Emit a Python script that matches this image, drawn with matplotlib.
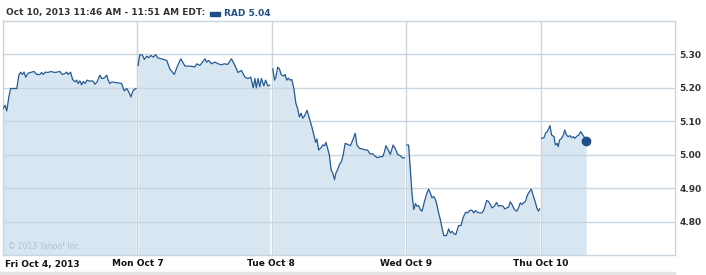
import matplotlib
matplotlib.use("Agg")
import matplotlib.pyplot as plt
import matplotlib.transforms as mtransforms

# minutes after 9:30 open, and price, one pair of lists per trading day
fri_min = [0, 6, 11, 17, 22, 40, 46, 51, 56, 61, 66, 73, 83, 90, 98, 107, 112, 117, 123, 131,
           138, 151, 165, 172, 180, 185, 189, 196, 202, 209, 214, 218, 223, 228, 233, 238, 244,
           252, 260, 267, 273, 281, 286, 293, 301, 305, 310, 317, 325, 334, 344, 352, 359, 365,
           371, 378, 386]
fri_val = [5.138, 5.148, 5.131, 5.173, 5.198, 5.198, 5.238, 5.247, 5.240, 5.247, 5.232, 5.244,
           5.247, 5.249, 5.240, 5.240, 5.246, 5.240, 5.247, 5.246, 5.249, 5.246, 5.249, 5.240,
           5.243, 5.247, 5.240, 5.247, 5.225, 5.218, 5.223, 5.213, 5.221, 5.209, 5.219, 5.213,
           5.223, 5.220, 5.221, 5.211, 5.218, 5.238, 5.228, 5.229, 5.238, 5.223, 5.213, 5.218,
           5.216, 5.215, 5.213, 5.191, 5.198, 5.188, 5.173, 5.193, 5.198]

mon_min = [2, 7, 14, 20, 27, 33, 39, 46, 53, 60, 70, 85, 94, 107, 117, 126, 138, 152, 167, 172,
           181, 186, 196, 201, 207, 215, 225, 234, 244, 252, 262, 273, 283, 292, 302, 312, 321,
           329, 336, 341, 345, 350, 355, 360, 367, 372, 379, 384]
mon_val = [5.267, 5.299, 5.299, 5.285, 5.295, 5.290, 5.297, 5.292, 5.299, 5.289, 5.287, 5.282,
           5.257, 5.240, 5.267, 5.287, 5.265, 5.265, 5.263, 5.272, 5.267, 5.273, 5.287, 5.277,
           5.282, 5.272, 5.277, 5.272, 5.269, 5.272, 5.270, 5.287, 5.267, 5.246, 5.252, 5.232,
           5.228, 5.232, 5.200, 5.228, 5.200, 5.228, 5.203, 5.228, 5.206, 5.223, 5.206, 5.208]

tue_min = [3, 8, 12, 17, 22, 27, 34, 39, 43, 48, 53, 58, 64, 70, 75, 80, 85, 90, 95, 102, 109,
           116, 122, 127, 131, 136, 143, 148, 153, 157, 162, 167, 172, 177, 182, 186, 191, 196,
           203, 207, 213, 220, 228, 235, 242, 247, 254, 264, 271, 278, 285, 293, 298, 302, 307,
           315, 322, 327, 331, 338, 344, 352, 359, 365, 373, 380, 385]
tue_val = [5.257, 5.223, 5.232, 5.262, 5.257, 5.240, 5.235, 5.240, 5.223, 5.229, 5.223, 5.225,
           5.198, 5.153, 5.138, 5.113, 5.124, 5.109, 5.116, 5.133, 5.109, 5.084, 5.059, 5.037,
           5.047, 5.014, 5.021, 5.029, 5.027, 5.037, 5.019, 4.999, 4.955, 4.945, 4.925, 4.945,
           4.955, 4.970, 4.982, 4.999, 5.034, 5.031, 5.027, 5.044, 5.064, 5.029, 5.019, 5.017,
           5.014, 5.014, 5.002, 5.003, 4.997, 4.994, 4.991, 4.994, 4.994, 5.009, 5.027, 5.014,
           5.001, 5.029, 5.017, 5.001, 4.997, 4.990, 4.991]

wed_min = [2, 7, 12, 17, 22, 27, 31, 36, 41, 46, 53, 60, 65, 70, 75, 80, 85, 89, 94, 99, 104,
           109, 117, 123, 128, 133, 138, 144, 152, 159, 165, 169, 173, 178, 184, 191, 196, 201,
           205, 213, 220, 225, 230, 234, 239, 244, 249, 256, 262, 268, 273, 281, 286, 292, 297,
           302, 307, 314, 321, 326, 331, 336, 341, 346, 352, 358, 363, 368, 375, 379, 384, 387]
wed_val = [5.029, 5.029, 4.955, 4.880, 4.836, 4.854, 4.846, 4.848, 4.836, 4.831, 4.860, 4.885,
           4.897, 4.885, 4.871, 4.875, 4.865, 4.851, 4.826, 4.806, 4.781, 4.758, 4.758, 4.778,
           4.766, 4.771, 4.764, 4.761, 4.788, 4.788, 4.811, 4.821, 4.828, 4.826, 4.833, 4.834,
           4.826, 4.833, 4.829, 4.826, 4.826, 4.834, 4.851, 4.863, 4.860, 4.851, 4.841, 4.846,
           4.857, 4.846, 4.848, 4.846, 4.838, 4.841, 4.843, 4.859, 4.851, 4.836, 4.831, 4.841,
           4.856, 4.851, 4.857, 4.860, 4.880, 4.890, 4.897, 4.880, 4.857, 4.841, 4.831, 4.838]

thu_min = [3, 10, 14, 19, 24, 27, 32, 39, 43, 48, 51, 55, 61, 66, 70, 75, 80, 85, 90, 95, 99,
           106, 111, 116, 121, 126, 132]
thu_val = [5.049, 5.051, 5.064, 5.069, 5.079, 5.087, 5.059, 5.054, 5.029, 5.034, 5.024, 5.044,
           5.049, 5.059, 5.074, 5.059, 5.054, 5.057, 5.051, 5.054, 5.049, 5.056, 5.059, 5.069,
           5.061, 5.054, 5.040]

days_min = [fri_min, mon_min, tue_min, wed_min, thu_min]
days_val = [fri_val, mon_val, tue_val, wed_val, thu_val]
day_labels = ["Fri Oct 4, 2013", "Mon Oct 7", "Tue Oct 8", "Wed Oct 9", "Thu Oct 10"]
y_ticks = [4.80, 4.90, 5.00, 5.10, 5.20, 5.30]
SESSION = 390.0
Y0, Y1 = 4.70, 5.40

LINE = "#245a93"
FILL = "#d7e6f1"
GRID = "#c9d5df"
TXT = "#333333"

fig = plt.figure(figsize=(7.06, 2.75), dpi=100)
ax = fig.add_axes([3 / 706, 20 / 275, 672 / 706, 234 / 275])

for d, (mins, vals) in enumerate(zip(days_min, days_val)):
    xs = [d + m / SESSION for m in mins]
    ax.fill_between(xs, Y0, vals, color=FILL, lw=0, zorder=1)
    ax.plot(xs, vals, color=LINE, lw=0.9, zorder=3, solid_joinstyle="round")

# last price marker
ax.plot([4 + thu_min[-1] / SESSION], [thu_val[-1]], "o", color="#1f4f86", ms=6, zorder=4)

ax.set_xlim(0, 5)
ax.set_ylim(Y0, Y1)
for d in range(1, 5):
    ax.axvline(d, color=GRID, lw=1.0, zorder=2)
for v in y_ticks:
    ax.axhline(v, color=GRID, lw=1.0, zorder=2)

ax.set_xticks([])
ax.yaxis.tick_right()
ax.set_yticks(y_ticks)
ax.set_yticklabels(["%.2f" % v for v in y_ticks], fontsize=6.5, fontweight="bold", color=TXT)
ax.tick_params(axis="y", length=0, pad=3)
for s in ax.spines.values():
    s.set_color(GRID)
    s.set_linewidth(1.0)

# day labels under the axis, shifted left of each day line
offsets = [2, -25, -25, -26, -28]
for d, (lab, off) in enumerate(zip(day_labels, offsets)):
    tr = ax.get_xaxis_transform() + mtransforms.ScaledTranslation(off / 100, -9 / 100, fig.dpi_scale_trans)
    ax.text(d, 0, lab, transform=tr, ha="left", va="center", fontsize=6.5,
            fontweight="bold", color="#111111")

ax.text(0.008, 0.015, "\u00a9 2013 Yahoo! Inc.", transform=ax.transAxes, fontsize=5.5,
        color="#b3c0cc", ha="left", va="bottom", zorder=5)

# header
fig.text(6 / 706, 1 - 13 / 275, "Oct 10, 2013 11:46 AM - 11:51 AM EDT:", fontsize=6.5,
         fontweight="bold", color=TXT, ha="left", va="center")
fig.patches.append(plt.Rectangle((210 / 706, 1 - 16 / 275), 10 / 706, 4 / 275,
                                 transform=fig.transFigure, color="#1f4f86"))
fig.text(224 / 706, 1 - 13 / 275, "RAD 5.04", fontsize=6.5, fontweight="bold",
         color="#1f4f86", ha="left", va="center")

# grey strip along the bottom
fig.patches.append(plt.Rectangle((0, 0), 675 / 706, 3 / 275, transform=fig.transFigure,
                                 color="#e3e3e3"))

fig.savefig("out.png", dpi=100)
